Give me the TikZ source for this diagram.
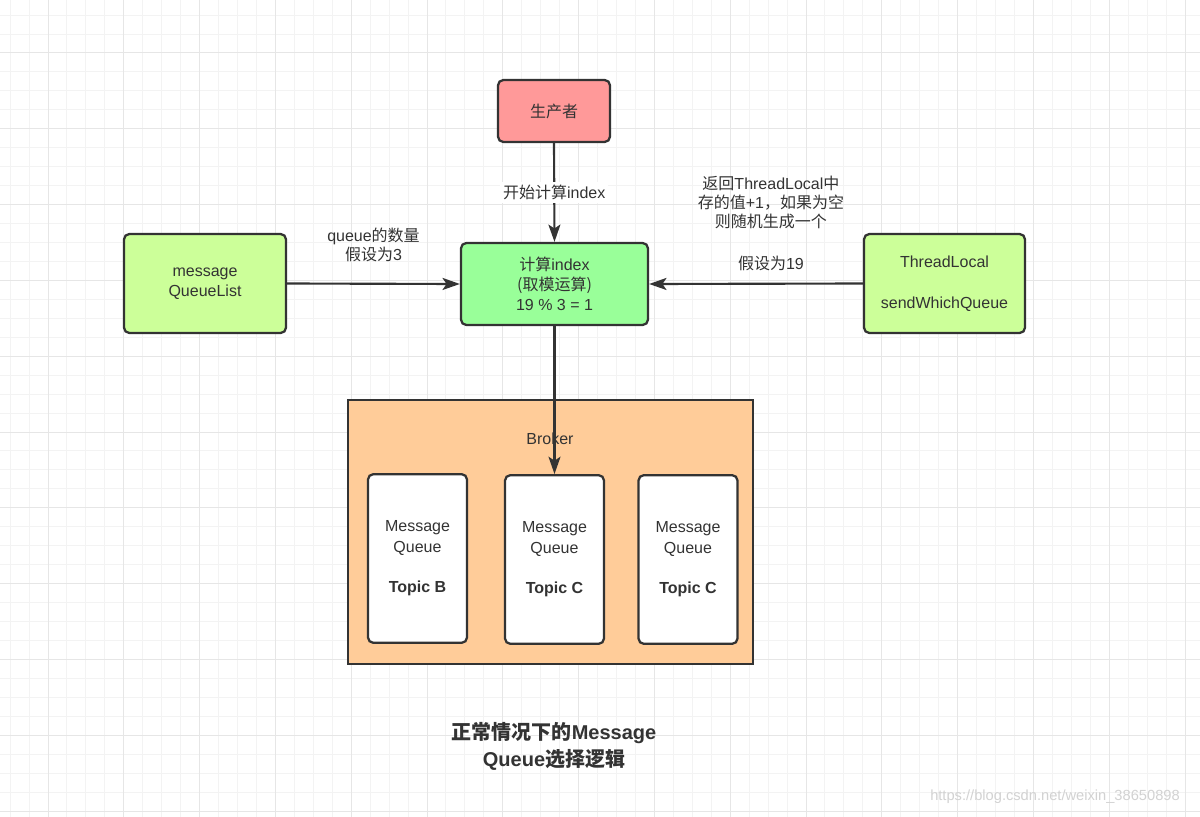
\documentclass[tikz,border=0pt]{standalone}
\usepackage{fontspec}
\setmainfont{Liberation Sans}
\newfontfamily\cjk{Noto Sans CJK SC}
\usetikzlibrary{arrows.meta}
\definecolor{bord}{HTML}{333333}
\definecolor{txt}{HTML}{333333}
\definecolor{redfill}{HTML}{FF9999}
\definecolor{greenfill}{HTML}{99FF99}
\definecolor{limefill}{HTML}{CCFF99}
\definecolor{orangefill}{HTML}{FFCC99}
\definecolor{gridminor}{HTML}{F3F3F3}
\definecolor{gridmajor}{HTML}{E6E6E6}
\tikzset{
  box/.style={draw=bord, line width=1.7pt, rounded corners=4pt, text=txt, align=center, inner sep=0pt},
  mqbox/.style={box, fill=white, minimum width=74.25pt, minimum height=126.5pt},
  arr/.style={draw=bord, line width=1.6pt, -{Stealth[length=13pt,width=9pt,inset=3pt]}},
  lbl/.style={text=txt, align=center, inner sep=1pt, font=\fontsize{12}{14.2}\selectfont},
  gminor/.style={draw=gridminor, line width=0.75pt},
  gmajor/.style={draw=gridmajor, line width=0.75pt}
}
\begin{document}
\begin{tikzpicture}[x=0.75pt,y=-0.75pt, font=\fontsize{12}{15.2}\selectfont]
\useasboundingbox (0,0) rectangle (1200,817);
\fill[white] (0,0) rectangle (1200,817);
% grid
\foreach \i in {0,...,63} \draw[gminor] ({10.1+18.95*\i},0) -- ({10.1+18.95*\i},817);
\foreach \j in {0,...,43} \draw[gminor] (0,{15.1+18.95*\j}) -- (1200,{15.1+18.95*\j});
\foreach \i in {0,...,15} \draw[gmajor] ({48+75.8*\i},0) -- ({48+75.8*\i},817);
\foreach \j in {0,...,10} \draw[gmajor] (0,{53+75.8*\j}) -- (1200,{53+75.8*\j});

% nodes
\node[box, fill=redfill, minimum width=84pt, minimum height=46.5pt] (prod) at (554,111) {{\cjk 生产者}};
\node[box, fill=greenfill, minimum width=140.25pt, minimum height=61.5pt] (comp) at (554.5,284) {{\cjk 计算}index\\{\cjk (取模运算)}\\19 \% 3 = 1};
\node[box, fill=limefill, minimum width=121.5pt, minimum height=74.25pt] (mql) at (205,283.5) {message\\QueueList};
\node[box, fill=limefill, minimum width=120.75pt, minimum height=74.25pt] (tl) at (944.5,283.5) {ThreadLocal\\[15.2pt]sendWhichQueue};
\node[draw=bord, line width=1.2pt, fill=orangefill, minimum width=303.75pt, minimum height=198pt, inner sep=0pt] (broker) at (550.5,532) {};
\node[text=txt, inner sep=0pt, anchor=center] (brokerlbl) at (550,439) {Broker};
\node[mqbox] (mq1) at (417.5,558.5) {Message\\Queue\\[15.5pt]\textbf{Topic B}};
\node[mqbox] (mq2) at (554.5,559.5) {Message\\Queue\\[15.5pt]\textbf{Topic C}};
\node[mqbox] (mq3) at (688,559.5) {Message\\Queue\\[15.5pt]\textbf{Topic C}};

% connectors
\draw[arr] (prod.south) -- node[lbl, fill=white, inner sep=2pt] {{\cjk 开始计算}index} (comp.north);
\draw[arr] (mql.east) -- node[lbl, midway, above=15pt] {queue{\cjk 的数量}\\{\cjk 假设为}3} (comp.west);
\draw[arr] (tl.west) -- node[lbl, pos=0.43, above=8pt] {{\cjk 返回}ThreadLocal{\cjk 中}\\{\cjk 存的值}+1{\cjk ，如果为空}\\{\cjk 则随机生成一个}\\[17pt]{\cjk 假设为}19} (comp.east);
\draw[arr] (comp.south) -- (mq2.north);

% title
\node[text=txt, align=center, font=\fontsize{15}{20.3}\selectfont\bfseries] (title) at (554,746.5) {{\cjk\bfseries 正常情况下的}Message\\Queue{\cjk\bfseries 选择逻辑}};
\node[text=gray!35, font=\fontsize{11}{13}\selectfont, inner sep=0pt] (wm) at (1055,797) {https://blog.csdn.net/weixin\_38650898};
\end{tikzpicture}
\end{document}
